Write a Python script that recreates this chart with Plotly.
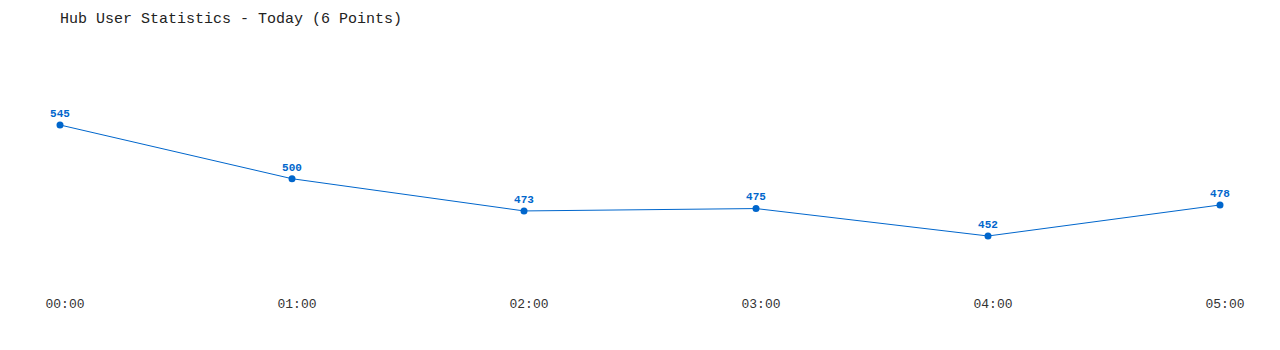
import plotly.graph_objects as go

times = ["00:00", "01:00", "02:00", "03:00", "04:00", "05:00"]
users = [545, 500, 473, 475, 452, 478]

fig = go.Figure()
fig.add_trace(go.Scatter(
    x=list(range(len(times))), y=users,
    mode="lines+markers+text",
    line=dict(color="#0066cc", width=1),
    marker=dict(color="#0066cc", size=7),
    text=[str(v) for v in users],
    textposition="top center",
    textfont=dict(family="Liberation Mono", size=11, color="#0066cc", weight="bold"),
    cliponaxis=False,
    hoverinfo="skip",
))

fig.update_layout(
    width=1280, height=350,
    margin=dict(l=60, r=60, t=40, b=70),
    paper_bgcolor="white", plot_bgcolor="white",
    showlegend=False,
    title=dict(text="Hub User Statistics - Today (6 Points)", x=0, xanchor="left", xref="paper",
               y=1, yref="container", yanchor="top", pad=dict(t=12),
               font=dict(family="Liberation Mono", size=15, color="#222222")),
    xaxis=dict(range=[0, 5], tickvals=list(range(len(times))), ticktext=times,
               showgrid=False, zeroline=False, showline=False, ticks="",
               ticklabelshift=5, ticklabelstandoff=14,
               tickfont=dict(family="Liberation Mono", size=13, color="#333333")),
    yaxis=dict(range=[415.15, 616.2], visible=False, showgrid=False, zeroline=False),
)
fig.write_html("out.html")
